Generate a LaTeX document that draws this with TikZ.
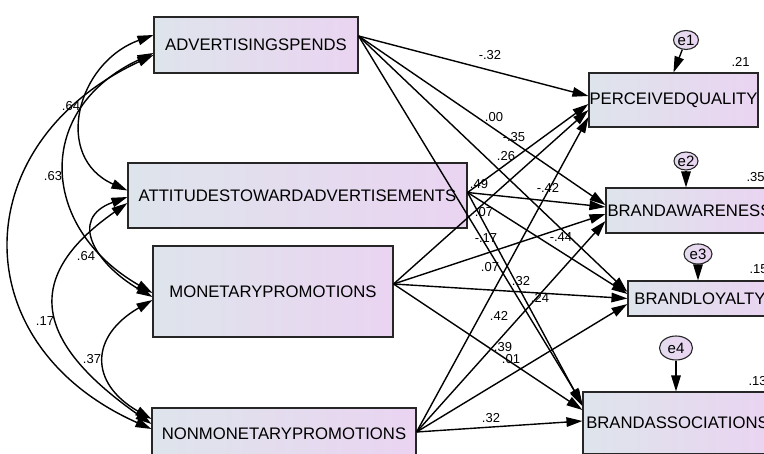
\documentclass[tikz,border=0pt]{standalone}
\usepackage{fontspec}
\setmainfont{Liberation Sans}
\usetikzlibrary{arrows.meta,shapes.geometric}
\definecolor{boxleft}{RGB}{222,228,236}
\definecolor{boxright}{RGB}{234,212,241}
\tikzset{
  varbox/.style={draw=black!85, line width=1.1pt, left color=boxleft, right color=boxright, inner sep=0pt, font=\fontsize{16.7}{20}\selectfont},
  errvar/.style={ellipse, draw=black!85, line width=1.1pt, left color=boxleft!50!boxright, right color=boxright, inner sep=0pt, font=\fontsize{15}{18}\selectfont},
  coef/.style={inner sep=0pt, font=\fontsize{13}{15}\selectfont},
  regline/.style={->, line width=1.4pt},
  covline/.style={<->, line width=1.4pt}
}
\begin{document}
\begin{tikzpicture}[x=1pt, y=-1pt, >={Triangle[length=16pt,width=9.5pt]}]
  \useasboundingbox (0,0) rectangle (764,454);
  \clip (0,0) rectangle (764,454);
  % Exogenous variables
  \node[varbox, minimum width=204pt, minimum height=56pt] (adv) at (256,45) {ADVERTISINGSPENDS};
  \node[varbox, minimum width=339pt, minimum height=65pt] (att) at (297.5,195.5) {ATTITUDESTOWARDADVERTISEMENTS};
  \node[varbox, minimum width=240pt, minimum height=91pt] (mon) at (273,291.5) {MONETARYPROMOTIONS};
  \node[varbox, minimum width=264pt, minimum height=52pt] (non) at (284,434) {NONMONETARYPROMOTIONS};
  % Endogenous variables
  \node[varbox, minimum width=169pt, minimum height=54pt] (pq) at (673.5,100) {PERCEIVEDQUALITY};
  \node[varbox, minimum width=167pt, minimum height=45pt] (baw) at (689.5,210.5) {BRANDAWARENESS};
  \node[varbox, minimum width=144pt, minimum height=35pt] (bl) at (700,298.5) {BRANDLOYALTY};
  \node[varbox, minimum width=189pt, minimum height=62pt] (bas) at (677.5,423) {BRANDASSOCIATIONS};
  % Paths from advertising spends
  \draw[regline] ([yshift=9pt]adv.east) -- ([yshift=4pt]pq.west);
  \draw[regline] ([yshift=9pt]adv.east) -- ([yshift=5.5pt]baw.west);
  \draw[regline] ([yshift=9pt]adv.east) -- ([yshift=6.5pt]bl.west);
  \draw[regline] ([yshift=9pt]adv.east) -- ([yshift=19pt]bas.west);
  % Paths from attitudes
  \draw[regline] ([yshift=3pt]att.east) -- ([yshift=-4pt]pq.west);
  \draw[regline] ([yshift=3pt]att.east) -- ([yshift=3.5pt]baw.west);
  \draw[regline] ([yshift=3pt]att.east) -- ([yshift=4.5pt]bl.west);
  \draw[regline] ([yshift=3pt]att.east) -- ([yshift=17pt]bas.west);
  % Paths from monetary promotions
  \draw[regline] ([yshift=7.5pt]mon.east) -- ([yshift=-10pt]pq.west);
  \draw[regline] ([yshift=7.5pt]mon.east) -- ([yshift=-3.5pt]baw.west);
  \draw[regline] ([yshift=7.5pt]mon.east) -- (bl.west);
  \draw[regline] ([yshift=7.5pt]mon.east) -- ([yshift=13pt]bas.west);
  % Paths from non monetary promotions
  \draw[regline] ([yshift=2pt]non.east) -- ([yshift=-17pt]pq.west);
  \draw[regline] ([yshift=2pt]non.east) -- ([yshift=-10.5pt]baw.west);
  \draw[regline] ([yshift=2pt]non.east) -- ([yshift=-5.5pt]bl.west);
  \draw[regline] ([yshift=2pt]non.east) -- ([yshift=2pt]bas.west);
  % Regression weights
  \node[coef] (w1) at (490,55) {-.32};
  \node[coef] (w2) at (494,117) {.00};
  \node[coef] (w3) at (514,137) {-.35};
  \node[coef] (w4) at (506,156) {.26};
  \node[coef] (w5) at (479,184) {.49};
  \node[coef] (w6) at (548,188) {-.42};
  \node[coef] (w7) at (484,212) {.07};
  \node[coef] (w8) at (486,238) {-.17};
  \node[coef] (w9) at (561,237) {-.44};
  \node[coef] (w10) at (490,267) {.07};
  \node[coef] (w11) at (521,281) {.32};
  \node[coef] (w12) at (540,298) {.24};
  \node[coef] (w13) at (499,316) {.42};
  \node[coef] (w14) at (503,347) {.39};
  \node[coef] (w15) at (511,359) {.01};
  \node[coef] (w16) at (491,418) {.32};
  % Covariances
  \draw[covline] ([yshift=10pt]adv.west) to[out=200,in=156,looseness=1.33] ([yshift=5pt]att.west);
  \draw[covline] ([yshift=-8pt]adv.west) to[out=205,in=150,looseness=1.4] ([yshift=-1.5pt]mon.west);
  \draw[covline] ([yshift=-10pt]adv.west) to[out=205,in=156,looseness=1.42] ([yshift=5pt]non.west);
  \draw[covline] ([yshift=-1.5pt]att.west) to[out=200,in=150,looseness=1.6] ([yshift=-5.5pt]mon.west);
  \draw[covline] ([yshift=-7.5pt]att.west) to[out=215,in=145,looseness=1.56] ([yshift=10pt]non.west);
  \draw[covline] ([yshift=-8.5pt]mon.west) to[out=210,in=150,looseness=1.55] ([yshift=15pt]non.west);
  \node[coef] (c1) at (71,106) {.64};
  \node[coef] (c2) at (53,176) {.63};
  \node[coef] (c3) at (86,256) {.64};
  \node[coef] (c4) at (45,321) {.17};
  \node[coef] (c5) at (92,359) {.37};
  % Error terms
  \node[errvar, minimum width=25pt, minimum height=19pt] (e1) at (686,40) {e1};
  \node[errvar, minimum width=24pt, minimum height=18pt] (e2) at (686,161) {e2};
  \node[errvar, minimum width=28pt, minimum height=20pt] (e3) at (698,254) {e3};
  \node[errvar, minimum width=33pt, minimum height=24pt] (e4) at (676,348) {e4};
  \draw[regline] (e1) -- (pq.north);
  \draw[regline] (e2) -- (e2 |- baw.north);
  \draw[regline] (e3) -- (e3 |- bl.north);
  \draw[regline] (e4) -- (e4 |- bas.north);
  % Squared multiple correlations
  \node[coef] (r1) at ([shift={(-18,-10)}]pq.north east) {.21};
  \node[coef] (r2) at ([shift={(-18,-10)}]baw.north east) {.35};
  \node[coef] (r3) at ([shift={(-14,-11)}]bl.north east) {.15};
  \node[coef] (r4) at ([shift={(-15,-10)}]bas.north east) {.13};
\end{tikzpicture}
\end{document}
